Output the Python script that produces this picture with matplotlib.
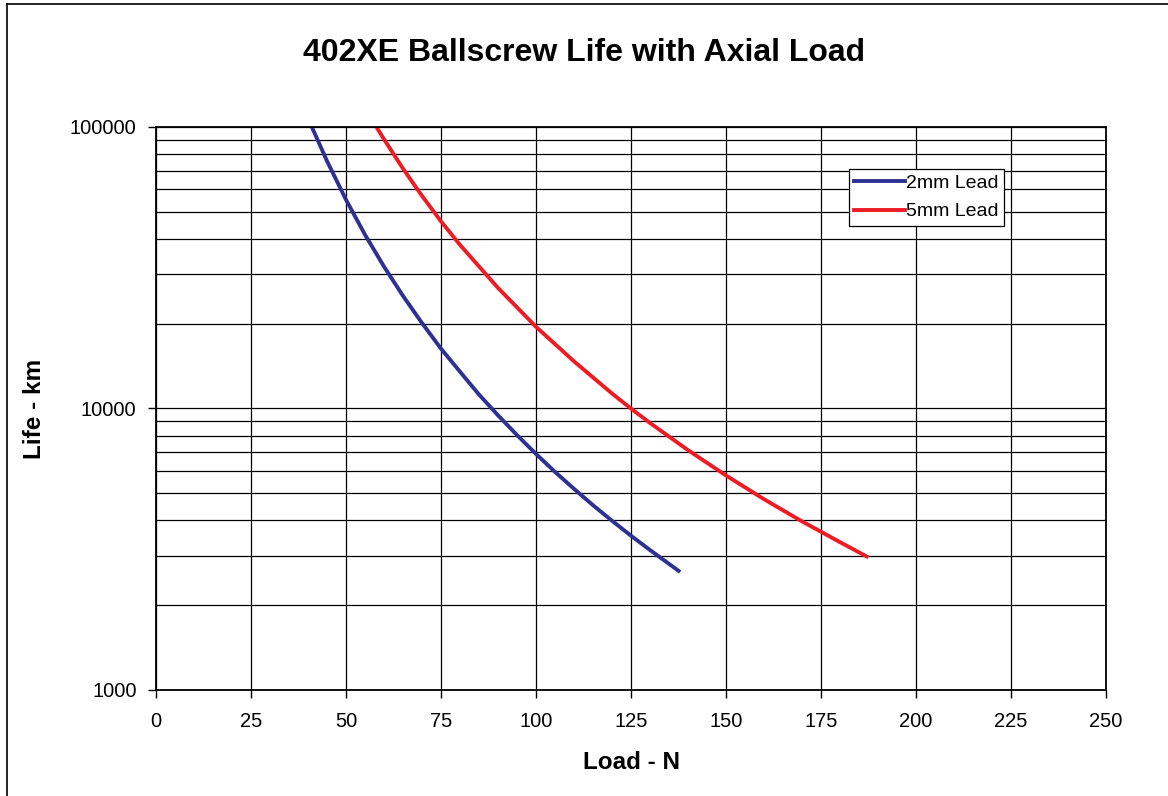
import matplotlib
matplotlib.use("Agg")
from matplotlib import pyplot as plt
from matplotlib.lines import Line2D
from matplotlib.ticker import NullFormatter, LogLocator
import numpy as np

plt.rcParams['font.family'] = ['Liberation Sans', 'DejaVu Sans']

# values
load_2mm = [41, 45, 50, 55, 60, 65, 70, 75, 80, 85, 90, 95, 100, 105, 110,
            115, 120, 125, 130, 137.5]
life_2mm = [100000, 75600, 55100, 41400, 31900, 25100, 20100, 16300, 13500,
            11200, 9450, 8040, 6890, 5950, 5180, 4530, 3990, 3530, 3140, 2650]

load_5mm = [58, 60, 65, 70, 75, 80, 90, 100, 110, 120, 125, 130, 140, 150,
            160, 170, 180, 187]
life_5mm = [100000, 90400, 71100, 56900, 46200, 38100, 26800, 19500, 14700,
            11300, 9990, 8880, 7110, 5780, 4760, 3970, 3350, 2980]

x_ticks = [0, 25, 50, 75, 100, 125, 150, 175, 200, 225, 250]
y_ticks = [1000, 10000, 100000]

fig = plt.figure(figsize=(11.68, 7.96), dpi=100)
ax = fig.add_axes([0.1336, 0.1332, 0.8134, 0.7073])

ax.plot(load_2mm, life_2mm, color="#2E3192", lw=2.8, label="2mm Lead")
ax.plot(load_5mm, life_5mm, color="#ED1C24", lw=2.8, label="5mm Lead")

ax.set_yscale("log")
ax.set_xlim(0, 250)
ax.set_ylim(1000, 100000)
ax.set_xticks(x_ticks)
ax.set_yticks(y_ticks)
ax.set_yticklabels([str(v) for v in y_ticks])
ax.yaxis.set_minor_locator(LogLocator(base=10, subs=np.arange(2, 10)))
ax.yaxis.set_minor_formatter(NullFormatter())

ax.grid(True, which="major", color="black", lw=0.9)
ax.grid(True, which="minor", axis="y", color="black", lw=0.9)
ax.set_axisbelow(True)
ax.tick_params(which="major", direction="out", length=6, width=1,
               labelsize=14.5)
ax.tick_params(axis="x", pad=10)
ax.tick_params(axis="y", pad=8)
ax.tick_params(which="minor", length=0)
for s in ax.spines.values():
    s.set_linewidth(1.3)
    s.set_color("black")

ax.set_xlabel("Load - N", fontsize=17.5, fontweight="bold", labelpad=14)
ax.set_ylabel("Life - km", fontsize=17.5, fontweight="bold", labelpad=17)
fig.text(0.5, 0.934, "402XE Ballscrew Life with Axial Load", ha="center",
         va="center", fontsize=23, fontweight="bold")

leg = ax.legend(loc="upper left", bbox_to_anchor=(0.729, 0.926),
                fontsize=14, frameon=True, fancybox=False, framealpha=1,
                edgecolor="black", handlelength=2.6, handletextpad=0.05,
                borderpad=0.3, labelspacing=0.55, borderaxespad=0)
leg.get_frame().set_linewidth(0.9)

# outer frame of the chart area
fig.add_artist(Line2D([0.006, 0.006], [0, 0.995], color="black", lw=1.2,
                      transform=fig.transFigure))
fig.add_artist(Line2D([0.006, 1], [0.995, 0.995], color="black", lw=1.2,
                      transform=fig.transFigure))

fig.savefig("out.png", dpi=100)
